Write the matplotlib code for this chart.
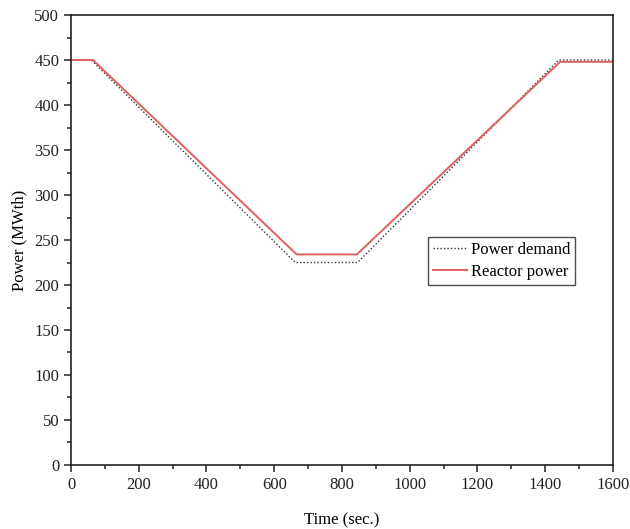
import matplotlib
matplotlib.use('Agg')
from matplotlib import pyplot as plt
from matplotlib.ticker import MultipleLocator

# power demand and reactor power (MWth) at the kink points
t_demand = [0, 60, 662, 846, 1440, 1600]
p_demand = [450, 450, 225, 225, 450, 450]

t_reactor = [0, 65, 666, 844, 1444, 1600]
p_reactor = [450, 450, 234, 234, 448, 448]

plt.rcParams['font.family'] = ['Liberation Serif', 'DejaVu Serif']

fig = plt.figure(figsize=(6.3, 5.29), dpi=100)
ax = fig.add_axes([0.1127, 0.121, 0.8603, 0.8506])

ax.plot(t_demand, p_demand, color='#333333', linestyle=(0, (1, 1.5)), linewidth=1.0, label='Power demand')
ax.plot(t_reactor, p_reactor, color='#e06060', linewidth=1.4, label='Reactor power')

ax.set_xlim(0, 1600)
ax.set_ylim(0, 500)
ax.xaxis.set_major_locator(MultipleLocator(200))
ax.xaxis.set_minor_locator(MultipleLocator(100))
ax.yaxis.set_major_locator(MultipleLocator(50))
ax.yaxis.set_minor_locator(MultipleLocator(25))
ax.tick_params(which='both', direction='out', top=False, right=False, labelsize=12, colors='#222222')
ax.tick_params(which='major', length=5, width=1.1)
ax.tick_params(which='minor', length=3, width=1.1)
for s in ax.spines.values():
    s.set_linewidth(1.2)
    s.set_color('#222222')

ax.set_xlabel('Time (sec.)', fontsize=12, labelpad=14)
ax.set_ylabel('Power (MWth)', fontsize=12, labelpad=5)

leg = ax.legend(loc='upper left', bbox_to_anchor=(0.659, 0.507), borderaxespad=0, fontsize=12,
                frameon=True, fancybox=False, edgecolor='#222222',
                handlelength=2.0, handletextpad=0.25, borderpad=0.3, labelspacing=0.35)
leg.get_frame().set_linewidth(1.0)

fig.savefig('out.png', dpi=100)
